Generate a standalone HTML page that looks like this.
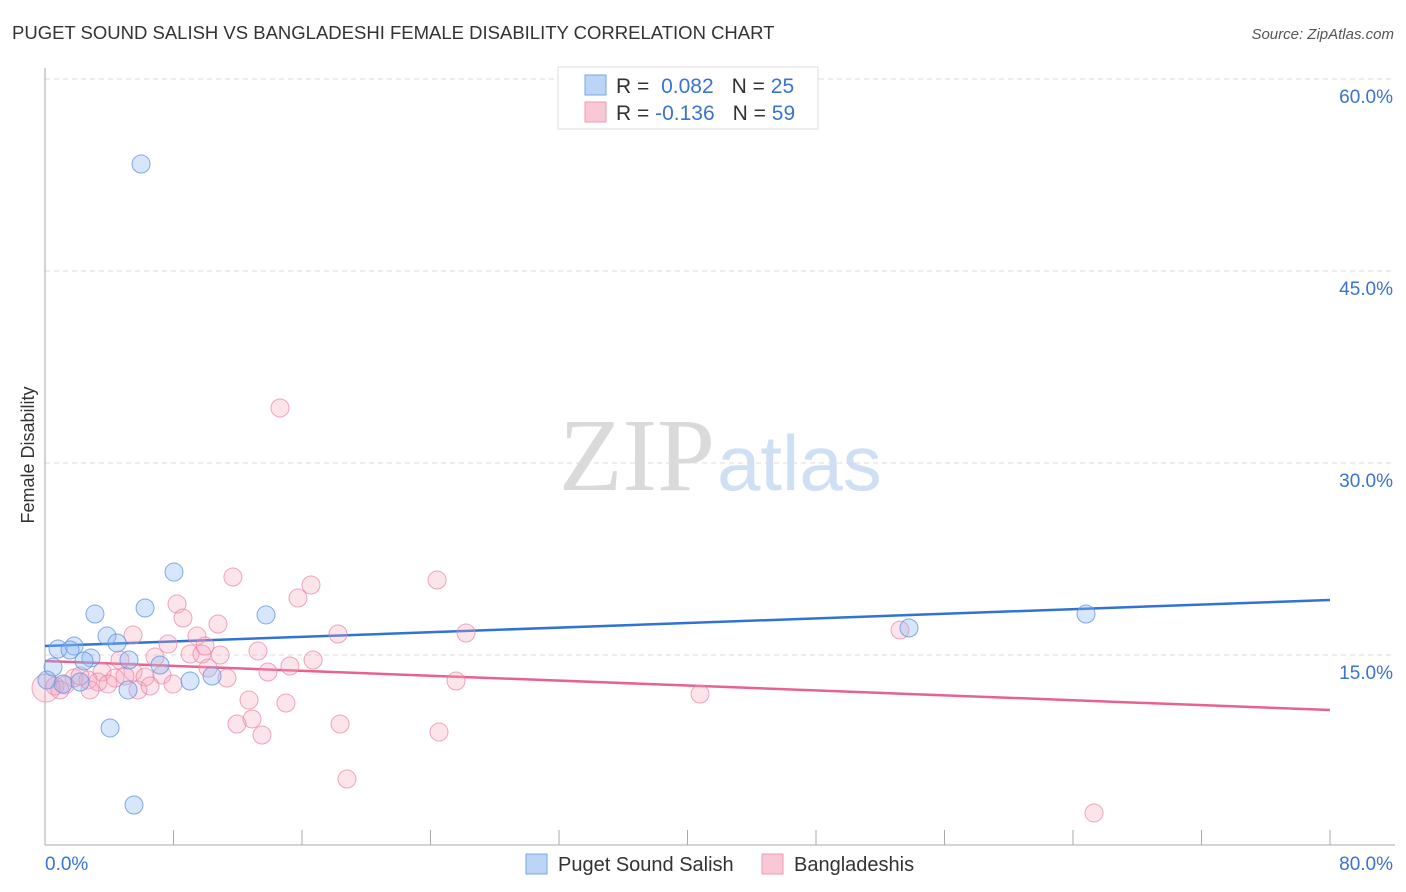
<!DOCTYPE html>
<html><head><meta charset="utf-8"><style>
body{margin:0;background:#fff;font-family:"Liberation Sans",sans-serif;}
svg{display:block}
</style></head><body>
<svg id="chart" width="1406" height="892">
<text x="12" y="39" font-size="18.5" fill="#333">PUGET SOUND SALISH VS BANGLADESHI FEMALE DISABILITY CORRELATION CHART</text>
<text x="1394" y="39" font-size="15" fill="#555" font-style="italic" text-anchor="end">Source: ZipAtlas.com</text>
<text x="715" y="490" font-size="104" fill="#dadada" text-anchor="end" font-family="Liberation Serif">ZIP</text>
<text x="717" y="490" font-size="78" fill="#cfe0f5">atlas</text>
<g id="grid"></g>
<g id="axes"></g>
<g id="lines"></g>
<g id="points"></g>
<text transform="translate(34,455) rotate(-90)" font-size="18" fill="#333" text-anchor="middle">Female Disability</text>
<g>
<rect x="558" y="67" width="260" height="62" fill="#fff" stroke="#ddd"/>
<rect x="585" y="75" width="21" height="20" fill="#bcd4f5" stroke="#7aa6e6"/>
<rect x="585" y="102" width="21" height="20" fill="#f8c8d5" stroke="#eb9ab2"/>
<text x="616" y="93" font-size="21" fill="#333">R = <tspan fill="#3a73d0" dx="6">0.082</tspan><tspan dx="18" fill="#333">N = </tspan><tspan fill="#3a73d0">25</tspan></text>
<text x="616" y="120" font-size="21" fill="#333">R = <tspan fill="#3a73d0">-0.136</tspan><tspan dx="18" fill="#333">N = </tspan><tspan fill="#3a73d0">59</tspan></text>
</g>
<g>
<rect x="526" y="854" width="21" height="20" fill="#bcd4f5" stroke="#7aa6e6"/>
<text x="558" y="871" font-size="20" fill="#333">Puget Sound Salish</text>
<rect x="762" y="854" width="21" height="20" fill="#f8c8d5" stroke="#eb9ab2"/>
<text x="794" y="871" font-size="20" fill="#333">Bangladeshis</text>
</g>
</svg>
<script>
const yTicks=[15,30,45,60];
const yTickLabels=["15.0%","30.0%","45.0%","60.0%"];
const xEndLabels=["0.0%","80.0%"];
const blueX=[5.98,8.03,6.23,3.11,13.76,3.86,4.48,1.81,0.81,2.86,5.23,2.43,7.16,0.50,0.12,2.18,1.12,10.40,9.03,5.17,4.05,5.54,53.79,64.81,1.56];
const blueY=[53.36,21.48,18.67,18.20,18.13,16.48,15.94,15.70,15.47,14.77,14.61,14.53,14.22,14.06,13.05,12.89,12.73,13.36,12.97,12.27,9.30,3.28,17.11,18.20,15.39];
const pinkX=[14.63,11.70,24.41,16.56,15.75,8.22,8.59,10.77,18.24,26.21,53.23,5.48,9.46,7.66,13.26,6.85,9.03,9.77,10.90,16.69,15.25,4.67,13.88,10.15,7.28,3.55,5.48,6.23,11.33,25.59,1.81,2.68,4.36,4.98,3.30,3.92,5.79,6.54,7.97,1.25,0.62,2.80,0.06,12.70,40.78,15.00,12.89,11.95,18.37,13.51,24.53,18.80,65.31,2.18,0.93,9.96];
const pinkY=[34.30,21.09,20.86,20.47,19.45,18.98,17.89,17.42,16.64,16.72,16.95,16.56,16.48,15.86,15.31,14.84,15.08,15.08,15.00,14.61,14.14,14.61,13.67,13.98,13.44,13.67,13.67,13.28,13.20,12.97,13.20,13.05,13.20,13.36,12.89,12.73,12.27,12.58,12.73,12.66,12.58,12.27,12.42,11.48,11.95,11.25,10.00,9.61,9.61,8.75,8.98,5.31,2.66,13.36,12.27,15.70];
const blueTrend=[15.70,19.30];
const pinkTrend=[14.53,10.70];
const NS="http://www.w3.org/2000/svg";
const X0=45,X1=1330,Y0=847;
function xs(v){return X0+(v/80)*(X1-X0);}
function ys(v){return Y0-(v/15)*192;}
function mk(tag,attrs,parent){const e=document.createElementNS(NS,tag);for(const k in attrs)e.setAttribute(k,attrs[k]);document.getElementById(parent).appendChild(e);return e;}
yTicks.forEach((t,i)=>{
 const l=mk('line',{x1:45,x2:1393,y1:ys(t),y2:ys(t),stroke:'#ddd','stroke-dasharray':'5,4'},'grid');
 
 
 const tx=mk('text',{x:1393,y:ys(t)+24,'font-size':19,fill:'#3a73d0','text-anchor':'end'},'grid');
 tx.textContent=yTickLabels[i];
 
 
});
const ax=mk('line',{x1:45,x2:1395,y1:845,y2:845,stroke:'#aaa'},'axes');


const ay=mk('line',{x1:45,x2:45,y1:68,y2:845,stroke:'#aaa'},'axes');


for(let i=0;i<=10;i++){
 const t=mk('line',{x1:xs(i*8),x2:xs(i*8),y1:830,y2:845,stroke:'#aaa'},'axes');
 
 
}
[0,80].forEach((v,i)=>{
 const t=mk('text',{x:i?1393:45,y:870,'font-size':19,fill:'#3a73d0','text-anchor':i?'end':'start'},'axes');
 t.textContent=xEndLabels[i];
 
 
});
function pts(X,Y,fill,stroke,name){
 X.forEach((x,i)=>{
  const c=mk('circle',{cx:xs(x),cy:ys(Y[i]),r:(i===42&&name==='pink')?14:9,fill:fill,stroke:stroke,'stroke-width':1},'points');
  
  
 });
}
pts(pinkX,pinkY,'rgba(245,165,188,0.3)','rgba(232,130,165,0.7)','pink');
pts(blueX,blueY,'rgba(140,182,240,0.35)','rgba(100,150,225,0.8)','blue');
const bl=mk('line',{x1:xs(0),x2:xs(80),y1:ys(blueTrend[0]),y2:ys(blueTrend[1]),stroke:'#2f73d4','stroke-width':2.5},'lines');


const pl=mk('line',{x1:xs(0),x2:xs(80),y1:ys(pinkTrend[0]),y2:ys(pinkTrend[1]),stroke:'#e8628e','stroke-width':2.5},'lines');


</script>
</body></html>
